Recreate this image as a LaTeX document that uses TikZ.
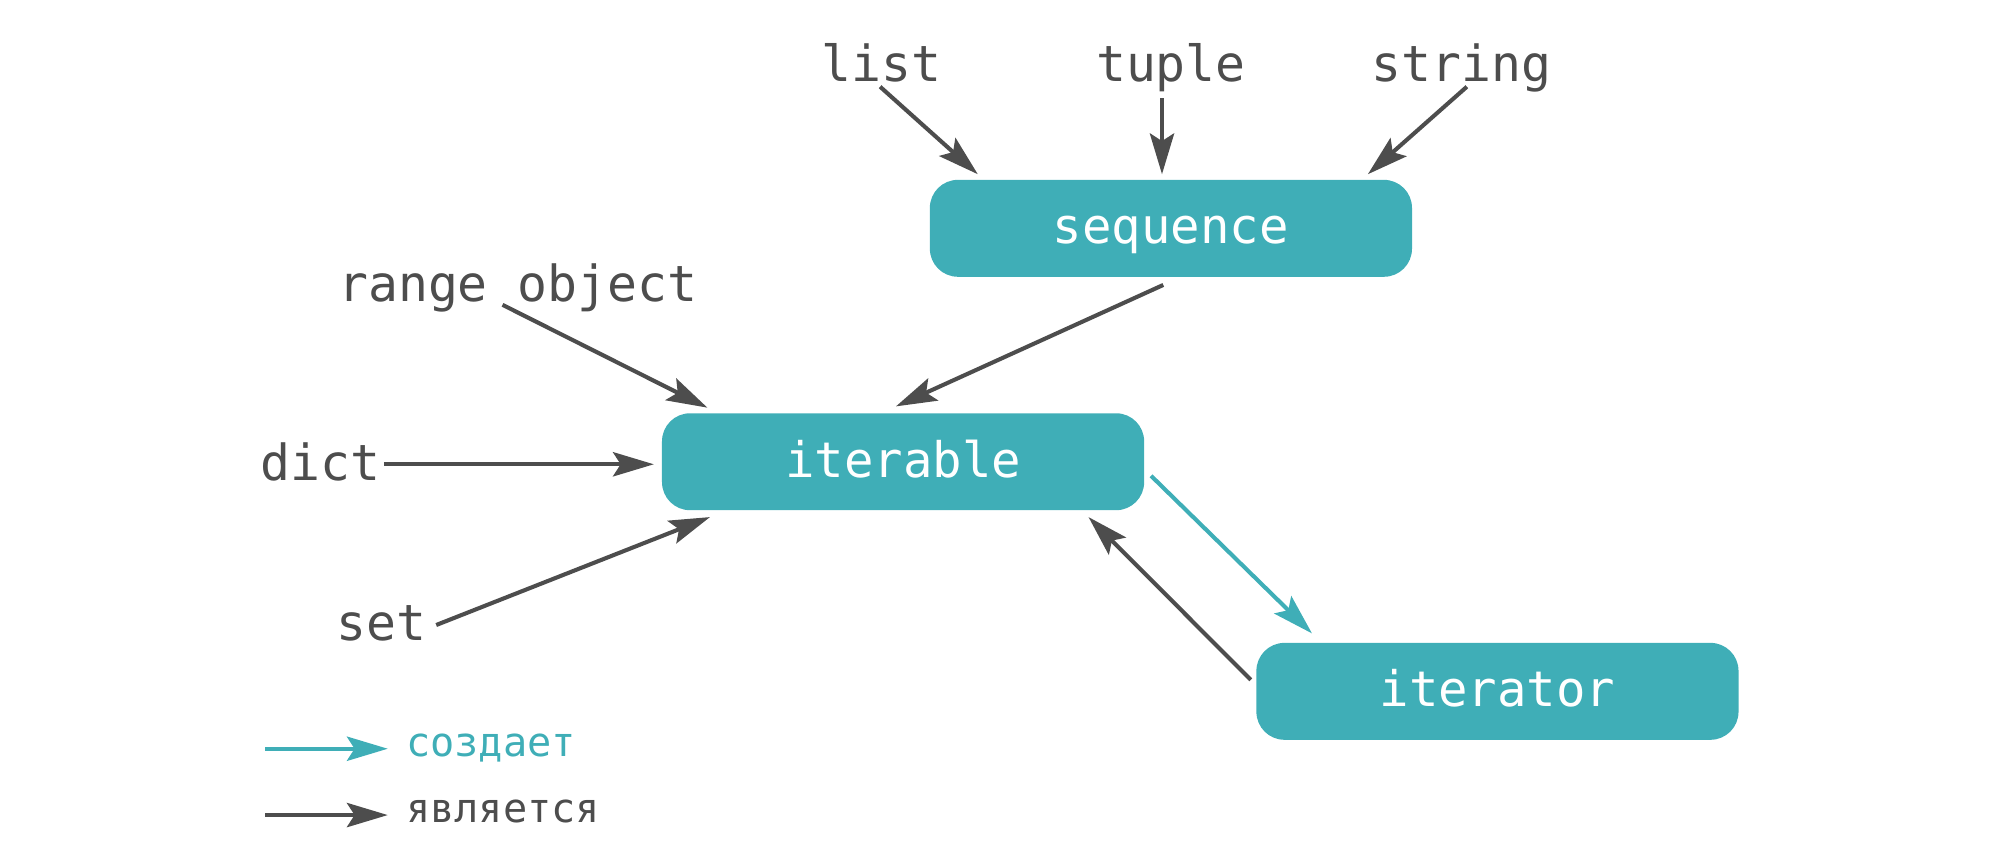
\documentclass[tikz,border=0pt]{standalone}
\usepackage{fontspec}
\setmonofont{DejaVu Sans Mono}
\usetikzlibrary{arrows.meta,calc}
\definecolor{teal1}{HTML}{3FAEB7}
\definecolor{dark1}{HTML}{4D4D4D}
\begin{document}
\begin{tikzpicture}[x=0.5pt,y=-0.5pt,
  box/.style={fill=teal1,rounded corners=11pt,minimum width=189pt,minimum height=38pt,inner sep=0pt,
    text=white,font=\ttfamily\fontsize{19.2pt}{22pt}\selectfont,text height=12pt,text depth=0pt},
  lbl/.style={inner sep=0pt,anchor=base,text=dark1,font=\ttfamily\fontsize{19.5pt}{22pt}\selectfont},
  leg/.style={inner sep=0pt,anchor=base west,font=\ttfamily\fontsize{15.8pt}{18pt}\selectfont},
  isa/.style={draw=dark1,line width=1.6pt,-{Stealth[length=16pt,width=9.5pt,inset=3pt]}},
  mk/.style={draw=teal1,line width=1.6pt,-{Stealth[length=16pt,width=9.5pt,inset=3pt]}}]
\useasboundingbox (0,0) rectangle (1568,680);
% boxes
\node[box] (seq) at (918,179) {sequence};
\node[box] (iterable) at (708,362) {iterable};
\node[box] (iterator) at (1174,542) {iterator};
% labels
\node[lbl] (list) at (691,64) {list};
\node[lbl] (tuple) at (918,64) {tuple};
\node[lbl] (string) at (1146,64) {string};
\node[lbl] (range) at (406,236) {range object};
\node[lbl] (dict) at (251,377) {dict};
\node[lbl] (set) at (299,502) {set};
% connectors
\draw[isa] ($(list.base)+(-1,4)$) -- ($(seq.north west)+(38,-4)$);
\draw[isa] ($(tuple.base)+(-7,13)$) -- ($(seq.north)+(-7,-4)$);
\draw[isa] ($(string.base)+(4,4)$) -- ($(seq.north east)+(-35,-4)$);
\draw[isa] ($(seq.south)+(-6,6)$) -- ($(iterable.north east)+(-195,-5)$);
\draw[isa] ($(range.base)+(-12,3)$) -- ($(iterable.north west)+(36,-4)$);
\draw[isa] ($(dict.base)+(50,-13)$) -- ($(iterable.west)+(-6,2)$);
\draw[isa] ($(set.base)+(43,-12)$) -- ($(iterable.south west)+(38,5)$);
\draw[mk] ($(iterable.east)+(5,11)$) -- ($(iterator.north west)+(44,-7)$);
\draw[isa] ($(iterator.west)+(-4,-9)$) -- ($(iterable.south east)+(-44,5)$);
% legend
\coordinate (l1a) at (208,587);
\coordinate (l1b) at (304,587);
\coordinate (l2a) at (208,639);
\coordinate (l2b) at (304,639);
\draw[mk] (l1a) -- (l1b);
\draw[isa] (l2a) -- (l2b);
\node[leg,text=teal1] (legmk) at (318,593) {создает};
\node[leg,text=dark1] (legisa) at (318,645) {является};
\end{tikzpicture}
\end{document}
